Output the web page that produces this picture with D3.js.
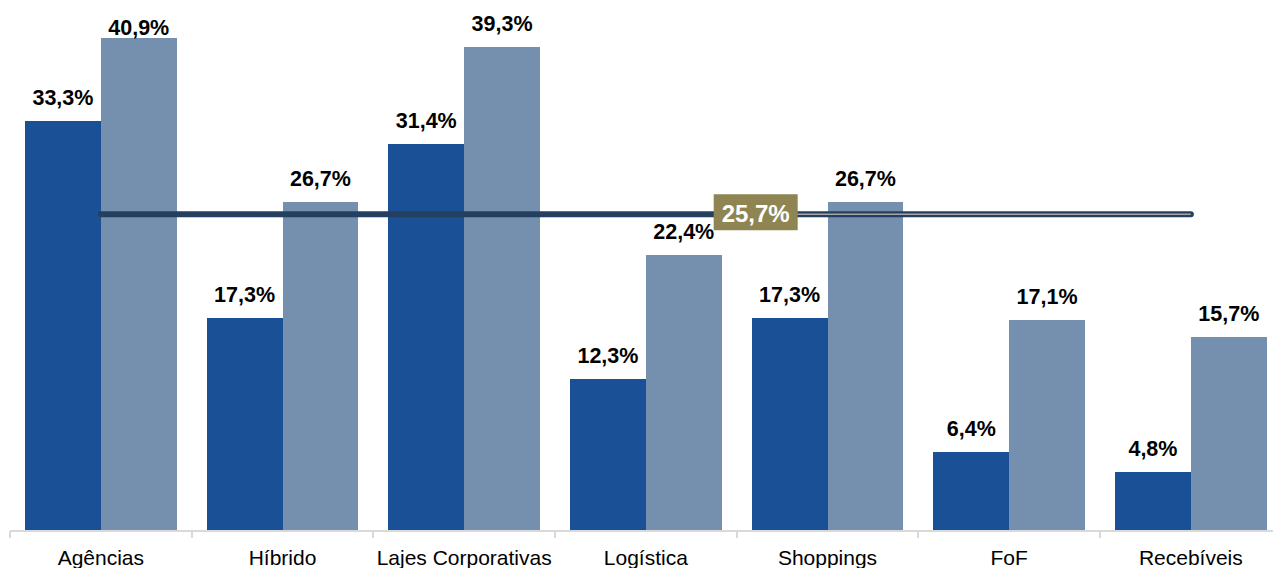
<!DOCTYPE html>
<html>
<head>
<meta charset="utf-8">
<script src="https://cdn.jsdelivr.net/npm/d3@7"></script>
<style>
  html, body { margin: 0; padding: 0; background: #ffffff; }
  svg { display: block; font-family: "Liberation Sans", Arial, sans-serif; }
</style>
</head>
<body>
<svg id="chart" width="1273" height="568"></svg>
<script>
const categories = ["Agências", "Híbrido", "Lajes Corporativas", "Logística", "Shoppings", "FoF", "Recebíveis"];
const seriesA = [33.3, 17.3, 31.4, 12.3, 17.3, 6.4, 4.8];
const seriesB = [40.9, 26.7, 39.3, 22.4, 26.7, 17.1, 15.7];
const average = 25.7;
const yMax = 40;

const fmt = v => v.toFixed(1).replace(".", ",") + "%";

const svg = d3.select("#chart");
const baseY = 531, topY = 38;
const step = 181.67, left = 10;

const x = d3.scaleBand()
  .domain(categories)
  .range([left, left + step * categories.length])
  .paddingInner(30 / step)
  .paddingOuter(15 / step);

const xs = d3.scaleBand().domain(["a", "b"]).range([0, x.bandwidth()]);
const y = d3.scaleLinear().domain([0, yMax]).range([baseY, topY]).clamp(true);

const colors = { a: "#1A5096", b: "#7490AE" };

const rows = categories.map((c, i) => ({ c, a: seriesA[i], b: seriesB[i] }));

// bars
["a", "b"].forEach(k => {
  svg.append("g").selectAll("rect")
    .data(rows).enter().append("rect")
    .attr("x", d => Math.round(x(d.c) + xs(k)))
    .attr("y", d => y(d[k]))
    .attr("width", d => Math.round(x(d.c) + xs(k) + xs.bandwidth()) - Math.round(x(d.c) + xs(k)))
    .attr("height", d => baseY - y(d[k]))
    .attr("fill", colors[k])
    .attr("shape-rendering", "crispEdges");
});

// axis
const ax = svg.append("g");
ax.append("line")
  .attr("x1", left).attr("x2", 1273)
  .attr("y1", baseY).attr("y2", baseY)
  .attr("stroke", "#D9D9D9").attr("stroke-width", 2);
d3.range(categories.length + 1).forEach(i => {
  const tx = Math.round(left + i * x.step());
  ax.append("line")
    .attr("x1", tx).attr("x2", tx)
    .attr("y1", baseY).attr("y2", baseY + 7)
    .attr("stroke", "#D9D9D9").attr("stroke-width", 2);
});
ax.selectAll("text.cat")
  .data(categories).enter().append("text")
  .attr("class", "cat")
  .attr("x", d => x(d) + x.bandwidth() / 2)
  .attr("y", 565)
  .attr("text-anchor", "middle")
  .attr("font-size", 21)
  .attr("fill", "#000")
  .text(d => d);

// average line
const ay = y(average);
const xStart = x(categories[0]) + x.bandwidth() / 2;
const xEnd = x(categories[categories.length - 1]) + x.bandwidth() / 2;
const boxCx = x("Shoppings") + 4;
const boxW = 84, boxH = 36;

svg.append("line")
  .attr("x1", xStart).attr("x2", xEnd)
  .attr("y1", ay).attr("y2", ay)
  .attr("stroke", "#243F60").attr("stroke-width", 6)
  .attr("stroke-linecap", "round");
svg.append("line")
  .attr("x1", boxCx).attr("x2", xEnd)
  .attr("y1", ay).attr("y2", ay)
  .attr("stroke", "#A6A6A6").attr("stroke-width", 1.6);

// value labels
["a", "b"].forEach(k => {
  svg.append("g").selectAll("text")
    .data(rows).enter().append("text")
    .attr("x", d => x(d.c) + xs(k) + xs.bandwidth() / 2)
    .attr("y", d => d[k] > yMax ? y(d[k]) - 3 : y(d[k]) - 16)
    .attr("text-anchor", "middle")
    .attr("font-size", 21.5)
    .attr("font-weight", "bold")
    .attr("fill", "#000")
    .text(d => fmt(d[k]));
});

// average label box
svg.append("rect")
  .attr("x", boxCx - boxW / 2).attr("y", ay - 20)
  .attr("width", boxW).attr("height", boxH)
  .attr("fill", "#8F8552");
svg.append("text")
  .attr("x", boxCx).attr("y", ay + 8)
  .attr("text-anchor", "middle")
  .attr("font-size", 24)
  .attr("font-weight", "bold")
  .attr("fill", "#fff")
  .text(fmt(average));
</script>
</body>
</html>
